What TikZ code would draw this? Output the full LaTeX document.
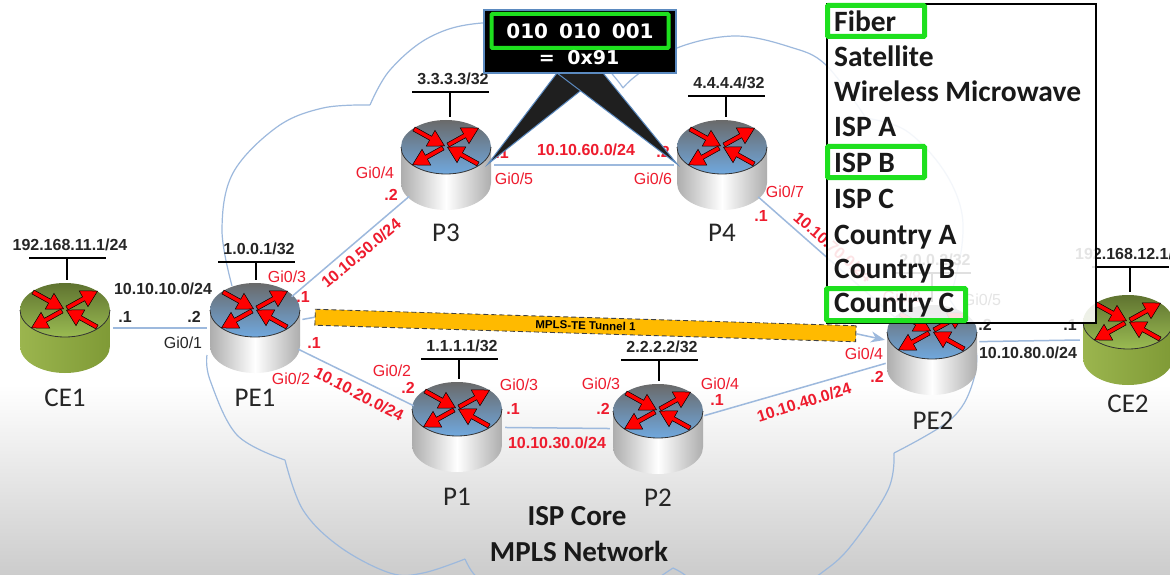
\documentclass[tikz,border=0pt]{standalone}
\usepackage{fontspec}
\usetikzlibrary{arrows.meta}
\setmainfont{Carlito}
\newfontfamily\arialfont{Liberation Sans}
\newfontfamily\verdfont{DejaVu Sans}
\definecolor{linkblue}{HTML}{9DB9DD}
\definecolor{tunnelorange}{HTML}{FFBA00}
\definecolor{netred}{HTML}{EE1C2E}
\definecolor{framegreen}{HTML}{1EE01E}
\definecolor{calloutblue}{HTML}{5B8AC0}
\definecolor{coretopa}{HTML}{6A6A6A}
\definecolor{coretopb}{HTML}{6590BE}
\definecolor{coretopc}{HTML}{70A8DE}
\definecolor{edgetopa}{HTML}{5F7330}
\definecolor{edgetopb}{HTML}{9ABB52}
\definecolor{edgesidea}{HTML}{9BB54E}
\definecolor{edgesideb}{HTML}{B7CF6C}
\definecolor{edgesidec}{HTML}{7F9A36}
\tikzset{
  coretop/.style={top color=coretopa,middle color=coretopb,bottom color=coretopc},
  coreside/.style={left color=black!32,right color=black!32,middle color=white},
  edgetop/.style={top color=edgetopa,bottom color=edgetopb},
  edgeside/.style={left color=edgesidea,middle color=edgesideb,right color=edgesidec},
  boltarrow/.style={fill=red,draw=black,line width=.5pt},
  routerhit/.style={circle,minimum size=96pt,inner sep=0pt},
  routername/.style={font=\fontsize{27}{27}\selectfont,text=black!85},
  iplabel/.style={font=\arialfont\bfseries\fontsize{16}{16}\selectfont,text=black!85,inner sep=0pt},
  gilabel/.style={font=\arialfont\fontsize{16}{16}\selectfont,text=black!85,inner sep=0pt},
  netlabel/.style={iplabel,text=netred},
  portlabel/.style={gilabel,text=netred},
  barline/.style={fill=black,inner sep=0pt,minimum height=2pt,minimum width=77pt},
  stem/.style={draw=black,line width=1.6pt},
  link/.style={draw=linkblue,line width=1.5pt},
  cloudline/.style={draw=linkblue,line width=1.2pt},
  frame/.style={draw=framegreen,line width=5pt,rounded corners=1pt,inner sep=0pt},
  listtext/.style={font=\bfseries\fontsize{29.5}{29.5}\selectfont,anchor=base west,inner sep=0pt,text=black!90},
  titletext/.style={font=\bfseries\fontsize{29}{29}\selectfont,text=black!90},
}
\newcommand{\router}[4]{%
  \begin{scope}[shift={(#2,#3)}]
    \path[#4side] (-45,0) -- (-45,36) arc[start angle=180,end angle=360,x radius=45pt,y radius=27pt] -- (45,0) -- cycle;
    \path[#4top] (0,0) ellipse[x radius=45pt,y radius=27pt];
    \draw[black!80,line width=.8pt] (-45,0) arc[start angle=180,end angle=360,x radius=45pt,y radius=27pt];
    \foreach \ax/\ay/\ang in {-32/-18/-29, 2/-2/29, -3/1/209, 32/17/151}
      \draw[boltarrow,shift={(\ax,\ay)},rotate=\ang] (0,-2.2) -- (19,-2.2) -- (19,-9) -- (35,0) -- (19,9) -- (19,2.2) -- (0,2.2) -- cycle;
    \node[routerhit] (#1) at (0,18) {};
  \end{scope}
}
\newcommand{\ipbar}[4]{%
  \node[barline] (#1bar) at (#2,#3) {};
  \node[iplabel] (#1ip) at (#2+3,#3-13) {#4};
  \draw[stem] (#1bar) -- (#1bar |- #1.north);
}
\begin{document}
\begin{tikzpicture}[x=1pt,y=-1pt]
  \useasboundingbox (0,0) rectangle (1170,575);
  \clip (0,0) rectangle (1170,575);
  % Background
  \fill[white] (0,0) rectangle (1170,385);
  \shade[top color=white,bottom color=black!20] (0,385) rectangle (1170,575);
  % Cloud
  \draw[cloudline] plot[smooth,tension=.6] coordinates {(232,286) (222,230) (233,173) (277,127) (323,108) (370,105)}
    plot[smooth,tension=.6] coordinates {(370,105) (390,70) (430,37) (482,23) (570,25) (613,75) (623,88)}
    plot[smooth,tension=.6] coordinates {(623,88) (637,75) (677,48) (735,36) (790,47) (826,65) (866,118)}
    plot[smooth,tension=.6] coordinates {(866,118) (905,130) (940,165) (960,205) (962,245) (950,300)}
    plot[smooth,tension=.6] coordinates {(950,300) (975,345) (972,385) (950,420) (894,453)}
    plot[smooth,tension=.6] coordinates {(894,453) (888,490) (850,547) (820,574) (780,600)}
    plot[smooth,tension=.6] coordinates {(700,590) (685,575) (673,568)}
    plot[smooth,tension=.6] coordinates {(673,568) (640,590)}
    plot[smooth,tension=.6] coordinates {(490,590) (473,573) (465,559)}
    plot[smooth,tension=.6] coordinates {(465,559) (423,573) (390,573) (340,547) (303,510) (285,460)}
    plot[smooth,tension=.6] coordinates {(285,460) (237,435) (210,380) (207,355)};
  % Routers
  \router{ce1}{65}{310}{edge}
  \router{pe1}{255}{310}{core}
  \router{ptre}{446}{147}{core}
  \router{pfour}{722}{147}{core}
  \router{pone}{457}{409}{core}
  \router{ptwo}{658}{411}{core}
  \router{pe2}{932}{332}{core}
  \router{ce2}{1128}{322}{edge}
  % Links
  \draw[link] (ce1) -- (pe1);
  \draw[link] (pe1) -- (ptre);
  \draw[link] (pe1) -- (pone);
  \draw[link] (pone) -- (ptwo);
  \draw[link] (ptwo) -- (pe2);
  \draw[link] (ptre) -- (pfour);
  \draw[link] (pfour) -- (pe2);
  \draw[link] (pe2.10) -- (ce2.west);
  % Tunnel
  \node[draw=black!75,dash pattern=on 5pt off 3pt,line width=.9pt,fill=tunnelorange,minimum width=541pt,minimum height=16pt,inner sep=0pt,rotate=-1.75,
    font=\arialfont\bfseries\fontsize{11.5}{11.5}\selectfont] (tunnel) at (585.5,325.5) {MPLS-TE Tunnel 1};
  \draw[link] (pe1) -- (tunnel.west);
  \draw[link,-{Stealth[length=14pt,width=11pt]}] (tunnel.east) -- (pe2);
  % Router names
  \node[routername] (ce1name) at (65,398) {CE1};
  \node[routername] (pe1name) at (255,398) {PE1};
  \node[routername] (ptrename) at (446,233) {P3};
  \node[routername] (pfourname) at (722,233) {P4};
  \node[routername] (ponename) at (457,497) {P1};
  \node[routername] (ptwoname) at (658,498) {P2};
  \node[routername] (pe2name) at (933,421) {PE2};
  \node[routername] (ce2name) at (1128,404) {CE2};
  % Addresses
  \ipbar{ce1}{67}{258}{192.168.11.1/24}
  \ipbar{pe1}{256}{262}{1.0.0.1/32}
  \ipbar{ptre}{450}{92}{3.3.3.3/32}
  \ipbar{pfour}{726}{96}{4.4.4.4/32}
  \ipbar{pone}{459}{359}{1.1.1.1/32}
  \ipbar{ptwo}{659}{360}{2.2.2.2/32}
  \ipbar{pe2}{932}{273}{2.0.0.2/32}
  \ipbar{ce2}{1130}{267}{192.168.12.1/24}
  % Link labels
  \node[iplabel] (n10) at (163,289) {10.10.10.0/24};
  \node[iplabel] (d1) at (125,317) {.1};
  \node[iplabel] (d2) at (194,317) {.2};
  \node[gilabel] (g1) at (183,343) {Gi0/1};
  \node[portlabel] (g3) at (287,277) {Gi0/3};
  \node[netlabel] (d3) at (303,297) {.1};
  \node[netlabel] (d4) at (314,343) {.1};
  \node[portlabel] (g2) at (291,379) {Gi0/2};
  \node[netlabel,rotate=-27] (n20) at (359,394) {10.10.20.0/24};
  \node[netlabel,rotate=40] (n50) at (361,253) {10.10.50.0/24};
  \node[portlabel] (g4) at (375,173) {Gi0/4};
  \node[netlabel] (d5) at (391,195) {.2};
  \node[portlabel] (g5) at (514,179) {Gi0/5};
  \node[netlabel] (d6) at (502,153) {.1};
  \node[netlabel] (n60) at (586,150) {10.10.60.0/24};
  \node[netlabel] (d7) at (663,152) {.2};
  \node[portlabel] (g6) at (653,179) {Gi0/6};
  \node[portlabel] (g7) at (785,192) {Gi0/7};
  \node[netlabel] (d8) at (761,216) {.1};
  \node[netlabel,rotate=-41] (n70) at (833,247) {10.10.70.0/24};
  \node[portlabel] (g8) at (392,371) {Gi0/2};
  \node[netlabel] (d9) at (408,388) {.2};
  \node[portlabel] (g9) at (519,385) {Gi0/3};
  \node[netlabel] (d10) at (513,409) {.1};
  \node[netlabel] (n30) at (557,443) {10.10.30.0/24};
  \node[portlabel] (g10) at (601,384) {Gi0/3};
  \node[netlabel] (d11) at (603,409) {.2};
  \node[portlabel] (g11) at (720,384) {Gi0/4};
  \node[netlabel] (d12) at (717,400) {.1};
  \node[netlabel,rotate=17.5] (n40) at (804,402) {10.10.40.0/24};
  \node[portlabel] (g12) at (864,354) {Gi0/4};
  \node[netlabel] (d13) at (877,377) {.2};
  \node[portlabel] (g13) at (902,297) {Gi0/8};
  \node[gilabel] (g14) at (982,300) {Gi0/5};
  \node[iplabel] (d14) at (985,325) {.2};
  \node[iplabel] (d15) at (1070,325) {.1};
  \node[iplabel] (n80) at (1028,353) {10.10.80.0/24};
  % Titles
  \node[titletext] (coreline) at (577,516) {ISP Core};
  \node[titletext] (mplsline) at (579,551) {MPLS Network};
  % List
  \fill[white,fill opacity=.88] (827,4) rectangle (1096,323);
  \draw[black,line width=2.5pt] (827,4) rectangle (1096,323);
  \foreach \txt/\ypos in {Fiber/32,Satellite/67,Wireless Microwave/102,ISP A/137,ISP B/172,ISP C/208,Country A/244,Country B/278,Country C/312}
    \node[listtext] at (834,\ypos) {\txt};
  \node[frame,minimum width=97pt,minimum height=31pt] (fiberframe) at (876,21) {};
  \node[frame,minimum width=97pt,minimum height=31pt] (ispframe) at (876,162) {};
  \node[frame,minimum width=139pt,minimum height=32pt] (countryframe) at (896,304.5) {};
  % Callout
  \coordinate (tipa) at (488,164);
  \coordinate (tipb) at (677,164);
  \fill[black!88,draw=calloutblue,line width=1pt] (tipa) -- (557,73) -- (603,73) -- cycle;
  \fill[black!88,draw=calloutblue,line width=1pt] (tipb) -- (603,73) -- (557,73) -- cycle;
  \node[fill=black,draw=calloutblue,line width=2pt,minimum width=192pt,minimum height=63pt,inner sep=0pt] (callout) at (580,41.5) {};
  \node[draw=framegreen,line width=4pt,rounded corners=1pt,minimum width=177pt,minimum height=34pt,inner sep=0pt,
    text=white,font=\verdfont\bfseries\fontsize{20}{20}\selectfont] (bits) at (580,31) {010\hspace{11pt}010\hspace{11pt}001};
  \node[text=white,inner sep=0pt,font=\verdfont\bfseries\fontsize{19}{19}\selectfont] (hexval) at (579,58) {=\hspace{6pt} 0x91};
\end{tikzpicture}
\end{document}
